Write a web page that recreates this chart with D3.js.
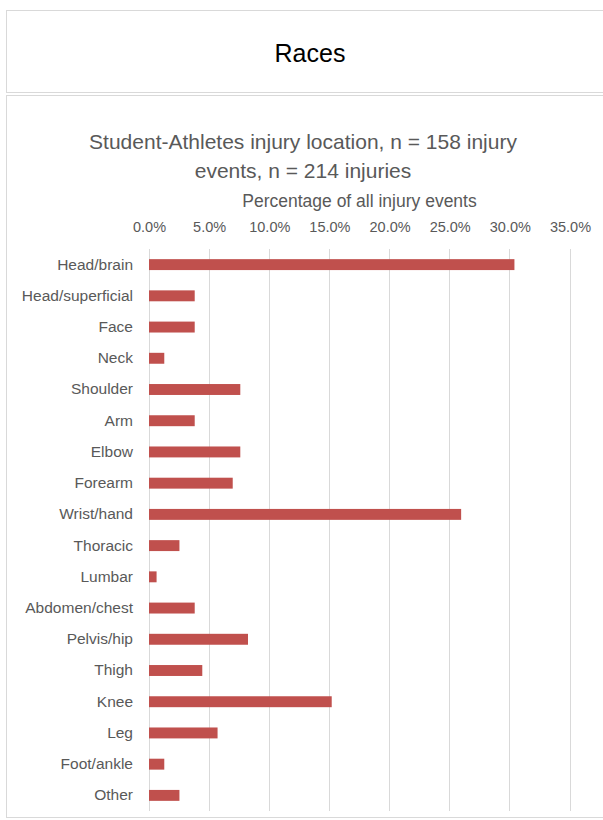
<!DOCTYPE html>
<html>
<head>
<meta charset="utf-8">
<script src="https://cdn.jsdelivr.net/npm/d3@7"></script>
<style>
  body { margin: 0; background: #fff; }
  svg text { font-family: "Liberation Sans", Arial, sans-serif; }
</style>
</head>
<body>
<div id="chart"></div>
<script>
// data (percent of 158 injury events)
const locations = ['Head/brain', 'Head/superficial', 'Face', 'Neck', 'Shoulder', 'Arm', 'Elbow', 'Forearm',
  'Wrist/hand', 'Thoracic', 'Lumbar', 'Abdomen/chest', 'Pelvis/hip', 'Thigh', 'Knee', 'Leg', 'Foot/ankle', 'Other'];
const percents = [30.38, 3.80, 3.80, 1.27, 7.59, 3.80, 7.59, 6.96,
  25.95, 2.53, 0.63, 3.80, 8.23, 4.43, 15.19, 5.70, 1.27, 2.53];
const tickValues = [0, 5, 10, 15, 20, 25, 30, 35];

const pageTitle = 'Races';
const chartTitle = ['Student-Athletes injury location, n = 158 injury', 'events, n = 214 injuries'];
const axisTitle = 'Percentage of all injury events';

const W = 603, H = 820;
const plot = { left: 149, right: 570, top: 249, bottom: 811 };

const svg = d3.select('#chart').append('svg')
  .attr('width', W)
  .attr('height', H);

// header box
svg.append('rect')
  .attr('x', 6.5).attr('y', 10.5)
  .attr('width', 610).attr('height', 82)
  .attr('fill', '#fff').attr('stroke', '#d9d9d9');

svg.append('text')
  .attr('x', 310).attr('y', 53)
  .attr('dy', '.35em')
  .attr('text-anchor', 'middle')
  .style('font-size', '25px')
  .attr('fill', '#000')
  .text(pageTitle);

// chart box
svg.append('rect')
  .attr('x', 6.5).attr('y', 95.5)
  .attr('width', 610).attr('height', 722)
  .attr('fill', '#fff').attr('stroke', '#d9d9d9');

const x = d3.scaleLinear()
  .domain([0, 35])
  .range([plot.left, plot.right]);

const y = d3.scaleBand()
  .domain(locations)
  .range([plot.top, plot.bottom])
  .paddingInner(0.65)
  .paddingOuter(0.325);

// gridlines
svg.append('g')
  .selectAll('line')
  .data(tickValues)
  .enter()
  .append('line')
  .attr('x1', d => x(d)).attr('x2', d => x(d))
  .attr('y1', plot.top).attr('y2', plot.bottom)
  .attr('stroke', '#d9d9d9')
  .attr('stroke-width', 1)
  .attr('shape-rendering', 'crispEdges');

// top axis labels
const xAxis = d3.axisTop(x)
  .tickValues(tickValues)
  .tickSize(0)
  .tickPadding(0)
  .tickFormat(d => d.toFixed(1) + '%');

const gx = svg.append('g')
  .attr('transform', `translate(0,${232})`)
  .call(xAxis);
gx.select('.domain').remove();
gx.selectAll('text')
  .attr('fill', '#595959')
  .style('font-size', '14.5px')
  .style('font-family', '"Liberation Sans", Arial, sans-serif');

// category labels
const yAxis = d3.axisLeft(y).tickSize(0).tickPadding(16);
const gy = svg.append('g')
  .attr('transform', `translate(${plot.left},0)`)
  .call(yAxis);
gy.select('.domain').remove();
gy.selectAll('text')
  .attr('fill', '#595959')
  .style('font-size', '15.5px')
  .style('font-family', '"Liberation Sans", Arial, sans-serif');

// bars
svg.append('g')
  .selectAll('rect')
  .data(locations)
  .enter()
  .append('rect')
  .attr('x', x(0))
  .attr('y', d => y(d))
  .attr('width', (d, i) => x(percents[i]) - x(0))
  .attr('height', y.bandwidth())
  .attr('fill', '#c0504d');

// titles
svg.append('g')
  .selectAll('text')
  .data(chartTitle)
  .enter()
  .append('text')
  .attr('x', 303)
  .attr('y', (d, i) => 142 + i * 28.5)
  .attr('dy', '.35em')
  .attr('text-anchor', 'middle')
  .style('font-size', '21px')
  .attr('fill', '#595959')
  .text(d => d);

svg.append('text')
  .attr('x', (plot.left + plot.right) / 2)
  .attr('y', 201)
  .attr('dy', '.35em')
  .attr('text-anchor', 'middle')
  .style('font-size', '17.5px')
  .attr('fill', '#595959')
  .text(axisTitle);
</script>
</body>
</html>
